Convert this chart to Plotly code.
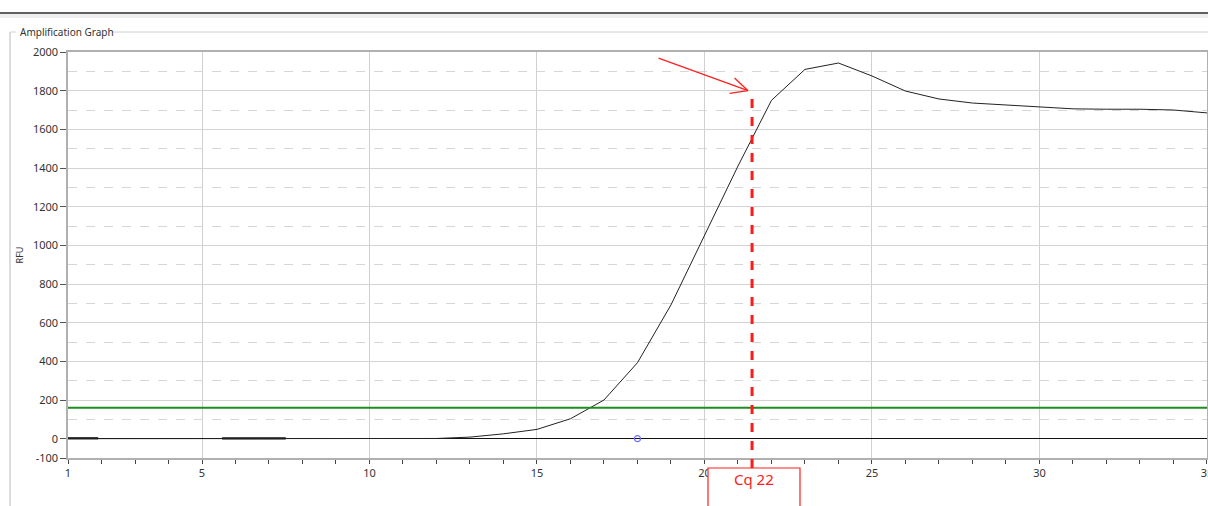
import plotly.graph_objects as go

# ---- data ----
cycles = list(range(1, 36))
rfu = [0, 0, 0, 0, 0, 0, 0, 0, 0, 0, 0, 1, 8, 25, 48, 103, 200, 393, 692, 1054,
       1410, 1750, 1910, 1943, 1876, 1798, 1757, 1736, 1726, 1716, 1706, 1704,
       1704, 1700, 1685]
flat_cycles = [1, 1.9, 3, 5.6, 7.5]
flat_rfu = [2, 2, None, 2, 2]
marker_cycle = [18]
marker_rfu = [0]
threshold = 160
cq_value = 21.42
cq_top = 1800
cq_label = "Cq 22"
x_tickvals = [1, 5, 10, 15, 20, 25, 30, 35]
y_tickvals = [-100, 0, 200, 400, 600, 800, 1000, 1200, 1400, 1600, 1800, 2000]
y_ticktext = ["-100", "0", "200", "400", "600", "800", "1000", "1200", "1400",
              "1600", "1800", "2000"]
y_minorvals = [100, 300, 500, 700, 900, 1100, 1300, 1500, 1700, 1900]
y_range = [-100, 2000]
x_range = [1, 35.001]

FONT = "Noto Sans"
# plot area in screen px: left 68, top 52, 1139 x 406
PL, PT, PW, PH = 68, 52, 1139, 406


def px(x):
    return (x - PL) / PW


def py(y):
    return (PT + PH - y) / PH


fig = go.Figure()

fig.add_trace(go.Scatter(x=flat_cycles, y=flat_rfu, mode="lines",
                         line=dict(color="#111111", width=2.2), connectgaps=False,
                         hoverinfo="skip", showlegend=False))
fig.add_trace(go.Scatter(x=cycles, y=rfu, mode="lines",
                         line=dict(color="#222222", width=1), showlegend=False))
fig.add_trace(go.Scatter(x=marker_cycle, y=marker_rfu, mode="markers",
                         marker=dict(symbol="circle-open", size=6, color="#7070ff",
                                     line=dict(width=1.2)),
                         showlegend=False))

# threshold line
fig.add_shape(type="line", xref="paper", yref="y", x0=0, x1=1, y0=threshold, y1=threshold,
              line=dict(color="#1e8c1e", width=2))

# Cq dashed line (extends below the plot to the label box)
ytop_paper = (cq_top - y_range[0]) / (y_range[1] - y_range[0])
fig.add_shape(type="line", xref="x", yref="paper", x0=cq_value, x1=cq_value,
              y0=py(468), y1=ytop_paper, line=dict(color="#ff1a1a", width=3, dash="dash"))

# arrow (open V head)
ax_x = cq_value - 0.12
for axo, ayo in [(-91, -33), (-15, -14), (-20, 3)]:
    fig.add_annotation(x=ax_x, y=cq_top, xref="x", yref="y", ax=axo, ay=ayo,
                       showarrow=True, arrowhead=0, arrowwidth=1.3, arrowcolor="#ff2020",
                       text="", standoff=0)

# Cq label box
fig.add_shape(type="rect", xref="paper", yref="paper",
              x0=px(708), x1=px(800), y0=py(515), y1=py(468),
              line=dict(color="#ff2020", width=1.2), fillcolor="white")
fig.add_annotation(x=px(754), y=py(491), xref="paper", yref="paper",
                   text=cq_label, showarrow=False,
                   font=dict(family=FONT, size=15, color="#ff2020"))

# frame decorations
fig.add_shape(type="rect", xref="paper", yref="paper", x0=px(0), x1=px(1220),
              y0=py(18), y1=py(14), line=dict(width=0), fillcolor="#eeeeee")
fig.add_shape(type="line", xref="paper", yref="paper", x0=px(0), x1=px(1220),
              y0=py(13), y1=py(13), line=dict(color="#606060", width=2))
gy = py(32)
gx = px(10)
fig.add_shape(type="line", xref="paper", yref="paper", x0=gx, x1=px(16),
              y0=gy, y1=gy, line=dict(color="#d0d0d0", width=1))
fig.add_shape(type="line", xref="paper", yref="paper", x0=px(112), x1=px(1220),
              y0=gy, y1=gy, line=dict(color="#d0d0d0", width=1))
fig.add_shape(type="line", xref="paper", yref="paper", x0=gx, x1=gx,
              y0=gy, y1=py(520), line=dict(color="#d0d0d0", width=1.5))
fig.add_annotation(x=px(18), y=gy, xref="paper", yref="paper",
                   xanchor="left", yanchor="middle", showarrow=False,
                   text="Amplification Graph",
                   font=dict(family=FONT, size=10, color="#333333"))

fig.update_layout(
    width=1208, height=506,
    margin=dict(l=68, r=1, t=52, b=48, autoexpand=False),
    paper_bgcolor="white", plot_bgcolor="white",
    font=dict(family=FONT, size=11, color="#333333"),
    showlegend=False,
    xaxis=dict(range=x_range, tickvals=x_tickvals, ticks="outside", ticklen=4,
               tickcolor="#444444", showgrid=True, gridcolor="#d0d0d0", gridwidth=1,
               showline=True, linecolor="#b0b0b0", linewidth=1.5, mirror=True,
               zeroline=False, tickfont=dict(size=11), ticklabeloverflow="allow",
               automargin=False,
               minor=dict(tick0=1, dtick=1, ticks="outside", ticklen=4,
                          tickcolor="#444444", showgrid=False)),
    yaxis=dict(range=y_range, tickvals=y_tickvals, ticktext=y_ticktext,
               ticks="outside", ticklen=6, automargin=False,
               tickcolor="#555555", showgrid=True, gridcolor="#d3d3d3", gridwidth=1,
               showline=True, linecolor="#b0b0b0", linewidth=1.5, mirror=True,
               zeroline=True, zerolinecolor="#111111", zerolinewidth=1,
               tickfont=dict(size=11),
               title=dict(text="RFU", font=dict(size=9, color="#333333"), standoff=8),
               minor=dict(tickvals=y_minorvals, ticks="", showgrid=True,
                          gridcolor="#d6d6d6", griddash="dash", gridwidth=1)),
)

fig.write_html("out.html", config={"displayModeBar": False},
               post_script="document.body.style.margin='0';document.body.style.overflow='hidden';")
